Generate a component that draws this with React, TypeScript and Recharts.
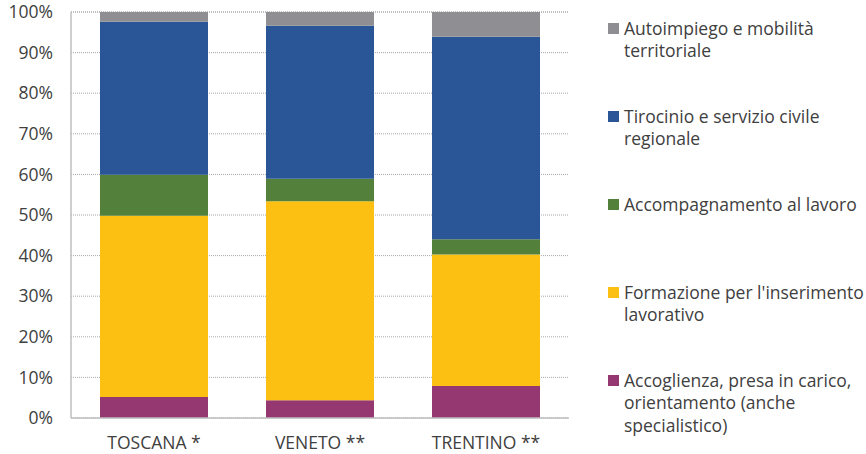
import React from "react";
import { BarChart, Bar, XAxis, YAxis, CartesianGrid } from "recharts";

// regions on the x axis
const regions = ["TOSCANA *", "VENETO **", "TRENTINO **"];

// shares (%) per region, bottom of the stack first
const accoglienza = [5.2, 4.4, 7.9];
const formazione = [44.6, 49.0, 32.4];
const accompagnamento = [10.1, 5.5, 3.7];
const tirocinio = [37.7, 37.7, 49.9];
const autoimpiego = [2.4, 3.4, 6.1];

const yTicks = [0, 10, 20, 30, 40, 50, 60, 70, 80, 90, 100];

const series = [
  {
    key: "accoglienza",
    name: "Accoglienza, presa in carico,\norientamento (anche\nspecialistico)",
    color: "#953872",
    values: accoglienza,
  },
  {
    key: "formazione",
    name: "Formazione per l'inserimento\nlavorativo",
    color: "#FBC012",
    values: formazione,
  },
  {
    key: "accompagnamento",
    name: "Accompagnamento al lavoro",
    color: "#53813B",
    values: accompagnamento,
  },
  {
    key: "tirocinio",
    name: "Tirocinio e servizio civile\nregionale",
    color: "#2A5597",
    values: tirocinio,
  },
  {
    key: "autoimpiego",
    name: "Autoimpiego e mobilità\nterritoriale",
    color: "#8F8F93",
    values: autoimpiego,
  },
];

const data = regions.map((region, i) => {
  const row: Record<string, string | number> = { region };
  series.forEach((s) => {
    row[s.key] = s.values[i];
  });
  return row;
});

const FONT = '"Open Sans", sans-serif';
const TEXT = "#404040";
const AXIS = "#bfbfbf";

const App: React.FC = () => {
  // legend lists the top of the stack first
  const legendItems = [...series].reverse();

  return (
    <div
      style={{
        position: "absolute",
        left: 0,
        top: 0,
        width: 866,
        height: 454,
        background: "#fff",
        fontFamily: FONT,
      }}
    >
      <BarChart
        width={866}
        height={454}
        data={data}
        margin={{ top: 12, right: 297, bottom: 0, left: 0 }}
      >
        <CartesianGrid
          vertical={false}
          stroke="#a8a8a8"
          strokeDasharray="1 1"
        />
        <XAxis
          dataKey="region"
          height={36}
          axisLine={{ stroke: AXIS, strokeWidth: 1.5 }}
          tickLine={false}
          tickSize={0}
          tickMargin={19}
          tick={{ fontSize: 17.5, fill: TEXT, fontFamily: FONT }}
        />
        <YAxis
          width={71}
          domain={[0, 100]}
          ticks={yTicks}
          interval={0}
          tickFormatter={(v) => `${v}%`}
          axisLine={{ stroke: AXIS, strokeWidth: 1.5 }}
          tickLine={false}
          tickSize={0}
          tickMargin={18}
          tick={{ fontSize: 17.5, fill: TEXT, fontFamily: FONT }}
        />
        {series.map((s) => (
          <Bar
            key={s.key}
            dataKey={s.key}
            name={s.name}
            stackId="a"
            fill={s.color}
            barSize={108}
            isAnimationActive={false}
          />
        ))}
      </BarChart>

      {/* legend on the right, one entry every 88px */}
      <div style={{ position: "absolute", left: 608, top: 0 }}>
        {legendItems.map((s, i) => (
          <div
            key={s.key}
            style={{
              position: "absolute",
              left: 0,
              top: 16.75 + 88 * i,
              display: "flex",
              alignItems: "flex-start",
              width: 258,
            }}
          >
            <span
              style={{
                width: 11,
                height: 11,
                background: s.color,
                marginTop: 5.75,
                marginRight: 5,
                flex: "none",
              }}
            />
            <span
              style={{
                whiteSpace: "pre",
                lineHeight: "22.5px",
                fontSize: 17.5,
                color: TEXT,
              }}
            >
              {s.name}
            </span>
          </div>
        ))}
      </div>
    </div>
  );
};

export default App;
